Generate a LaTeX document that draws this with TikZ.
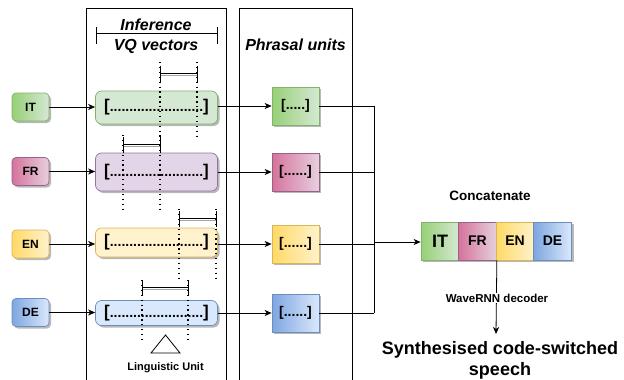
\documentclass[tikz,border=0pt]{standalone}
\usepackage{fontspec}
\setmainfont{Liberation Sans}
\usetikzlibrary{arrows.meta,shadows,calc}
\definecolor{itD}{HTML}{97D077}\definecolor{itL}{HTML}{D5E8D4}\definecolor{itB}{HTML}{82B366}
\definecolor{frD}{HTML}{D5739D}\definecolor{frL}{HTML}{E6D0DE}\definecolor{frB}{HTML}{996185}
\definecolor{enD}{HTML}{FFD966}\definecolor{enL}{HTML}{FFF2CC}\definecolor{enB}{HTML}{D6B656}
\definecolor{deD}{HTML}{7EA6E0}\definecolor{deL}{HTML}{DAE8FC}\definecolor{deB}{HTML}{6C8EBF}
\definecolor{vqFR}{HTML}{E1D5E7}\definecolor{vqFRB}{HTML}{9673A6}
\newcommand{\vqtext}{{\fontsize{17}{17}\selectfont[}{\fontsize{14}{14}\selectfont........................}{\fontsize{17}{17}\selectfont]}}
\begin{document}
\begin{tikzpicture}[x=1pt,y=-1pt,
  shad/.style={drop shadow={shadow xshift=2pt,shadow yshift=-2pt,fill=black!28,opacity=1}},
  lang/.style={draw,rounded corners=4pt,minimum width=37pt,minimum height=28pt,inner sep=0pt,
    font=\fontsize{12}{12}\selectfont\bfseries,shad,line width=0.7pt},
  vq/.style={draw,rounded corners=6pt,minimum width=122pt,inner sep=0pt,shad,line width=0.7pt,
    font=\bfseries},
  ph/.style={draw,minimum width=47pt,minimum height=38pt,inner sep=0pt,shad,line width=0.7pt,
    font=\fontsize{14}{14}\selectfont\bfseries},
  cc/.style={draw,minimum width=38pt,minimum height=38pt,inner sep=0pt,shad,line width=0.7pt,
    font=\fontsize{14}{14}\selectfont\bfseries},
  conn/.style={line width=0.8pt},
  arr/.style={conn,-{Stealth[length=7pt,width=6pt,inset=2pt]}},
  dots/.style={line width=1.3pt,dash pattern=on 1.3pt off 3.6pt},
  dimen/.style={line width=0.8pt},
  hdr/.style={font=\fontsize{16}{16}\selectfont\bfseries\itshape,inner sep=0pt}
]
\useasboundingbox (0,0) rectangle (624,380);
% columns
\draw[line width=0.8pt] (86,380) -- (86,8) -- (226,8) -- (226,380);
\draw[line width=0.8pt] (239,380) -- (239,8) -- (352,8) -- (352,380);
% headers
\node[hdr] (hInf) at (156,25) {Inference};
\node[hdr] (hVQ) at (156,46) {VQ vectors};
\node[hdr] (hPh) at (295.5,45) {Phrasal units};
\coordinate (hbL) at (96,33); \coordinate (hbR) at (217,33);
\draw[line width=0.8pt] (hbL) -- (hbR);
\draw[line width=0.8pt] ($(hbL)+(0,-6)$) -- ($(hbL)+(0,11)$);
\draw[line width=0.8pt] ($(hbR)+(0,-6)$) -- ($(hbR)+(0,11)$);

% dotted markers (behind boxes)
\foreach \xa/\xb/\yb/\ya/\yz in {160/197/73/62/138, 123/160/144/135/213, 179/216/218/209/278, 142/188/287/280/343}{
  \draw[dots] (\xa,\ya) -- (\xa,\yz);
  \draw[dots] (\xb,\ya) -- (\xb,\yz);
}

% language nodes
\node[lang,left color=itD,right color=itL,draw=itB] (lIT) at (30.5,107) {IT};
\node[lang,left color=frD,right color=frL,draw=frB] (lFR) at (30.5,171.5) {FR};
\node[lang,left color=enD,right color=enL,draw=enB] (lEN) at (30.5,244) {EN};
\node[lang,left color=deD,right color=deL,draw=deB] (lDE) at (30.5,312.5) {DE};

% VQ boxes
\node[vq,fill=itL,draw=itB,minimum height=33pt] (vIT) at (156.5,107.5) {\vqtext};
\node[vq,fill=vqFR,draw=vqFRB,minimum height=38pt] (vFR) at (156.5,172) {\vqtext};
\node[vq,fill=enL,draw=enB,minimum height=29pt] (vEN) at (156.5,242.5) {\vqtext};
\node[vq,fill=deL,draw=deB,minimum height=25pt] (vDE) at (156.5,313) {\vqtext};

% dotted markers over boxes (visible on top)
\foreach \xa/\xb/\yb/\ya/\yz in {160/197/73/62/138, 123/160/144/135/213, 179/216/218/209/278, 142/188/287/280/343}{
  \draw[dots] (\xa,\ya) -- (\xa,\yz);
  \draw[dots] (\xb,\ya) -- (\xb,\yz);
  \draw[dimen,black!35] (\xa,\yb+2.5) -- (\xb,\yb+2.5);
  \draw[dimen] (\xa,\yb) -- (\xb,\yb);
  \draw[dimen] (\xa,\yb-7) -- (\xa,\yb+9);
  \draw[dimen] (\xb,\yb-7) -- (\xb,\yb+9);
}

% phrasal boxes
\node[ph,left color=itD,right color=itL,draw=itB] (pIT) at (295.5,106) {[.....]};
\node[ph,left color=frD,right color=frL,draw=frB] (pFR) at (295.5,172) {[......]};
\node[ph,left color=enD,right color=enL,draw=enB] (pEN) at (295.5,244) {[......]};
\node[ph,left color=deD,right color=deL,draw=deB] (pDE) at (295.5,313) {[......]};

% connectors lang -> vq
\draw[arr] (lIT.east) -- (lIT.east -| vIT.west);
\draw[arr] (lFR.east) -- (lFR.east -| vFR.west);
\draw[arr] (lEN.east) -- (lEN.east -| vEN.west);
\draw[arr] (lDE.east) -- (lDE.east -| vDE.west);
% vq -> phrasal
\draw[arr] (vIT.east |- pIT.west) -- (pIT.west);
\draw[arr] (vFR.east |- pFR.west) -- (pFR.west);
\draw[arr] (vEN.east |- pEN.west) -- (pEN.west);
\draw[arr] (vDE.east |- pDE.west) -- (pDE.west);

% concatenated
\node[cc,left color=itD,right color=itL,draw=itB,font=\fontsize{18}{18}\selectfont\bfseries] (cIT) at (440,241) {IT};
\node[cc,left color=frD,right color=frL,draw=frB] (cFR) at (477.5,241) {FR};
\node[cc,left color=enD,right color=enL,draw=enB] (cEN) at (515,241) {\raisebox{1.5pt}{EN}};
\node[cc,left color=deD,right color=deL,draw=deB] (cDE) at (552.5,241) {DE};
\node[font=\fontsize{13.5}{13.5}\selectfont\bfseries,inner sep=0pt] (tConc) at (490,196) {Concatenate};

% bus
\coordinate (bTop) at (374,106);
\coordinate (bBot) at (374,313);
\coordinate (bOut) at (374,242);
\draw[conn] (pIT.east) -- (pIT.east -| bTop);
\draw[conn] (pFR.east) -- (pFR.east -| bTop);
\draw[conn] (pEN.east) -- (pEN.east -| bTop);
\draw[conn] (pDE.east) -- (pDE.east -| bTop);
\draw[conn] (bTop) -- (bBot);
\draw[arr] (bOut) -- (bOut -| cIT.west);

% output
\coordinate (dTop) at (cFR.south east);
\node[font=\fontsize{18}{21}\selectfont\bfseries,align=center,inner sep=0pt] (out) at (500,360) {Synthesised code-switched\\speech};
\coordinate (dEnd) at (496,334);
\draw[arr] (dTop) -- (dEnd);
\node[fill=white,font=\fontsize{11.5}{11.5}\selectfont\bfseries,inner sep=1pt] (wave) at (497,298) {WaveRNN decoder};

% linguistic unit
\coordinate (tA) at (165.5,335); \coordinate (tB) at (151,353); \coordinate (tC) at (180,353);
\draw[line width=0.8pt,fill=white] (tA) -- (tB) -- (tC) -- cycle;
\node[font=\fontsize{11}{11}\selectfont\bfseries,inner sep=0pt] (lu) at (165.5,368) {Linguistic Unit};
\end{tikzpicture}
\end{document}
